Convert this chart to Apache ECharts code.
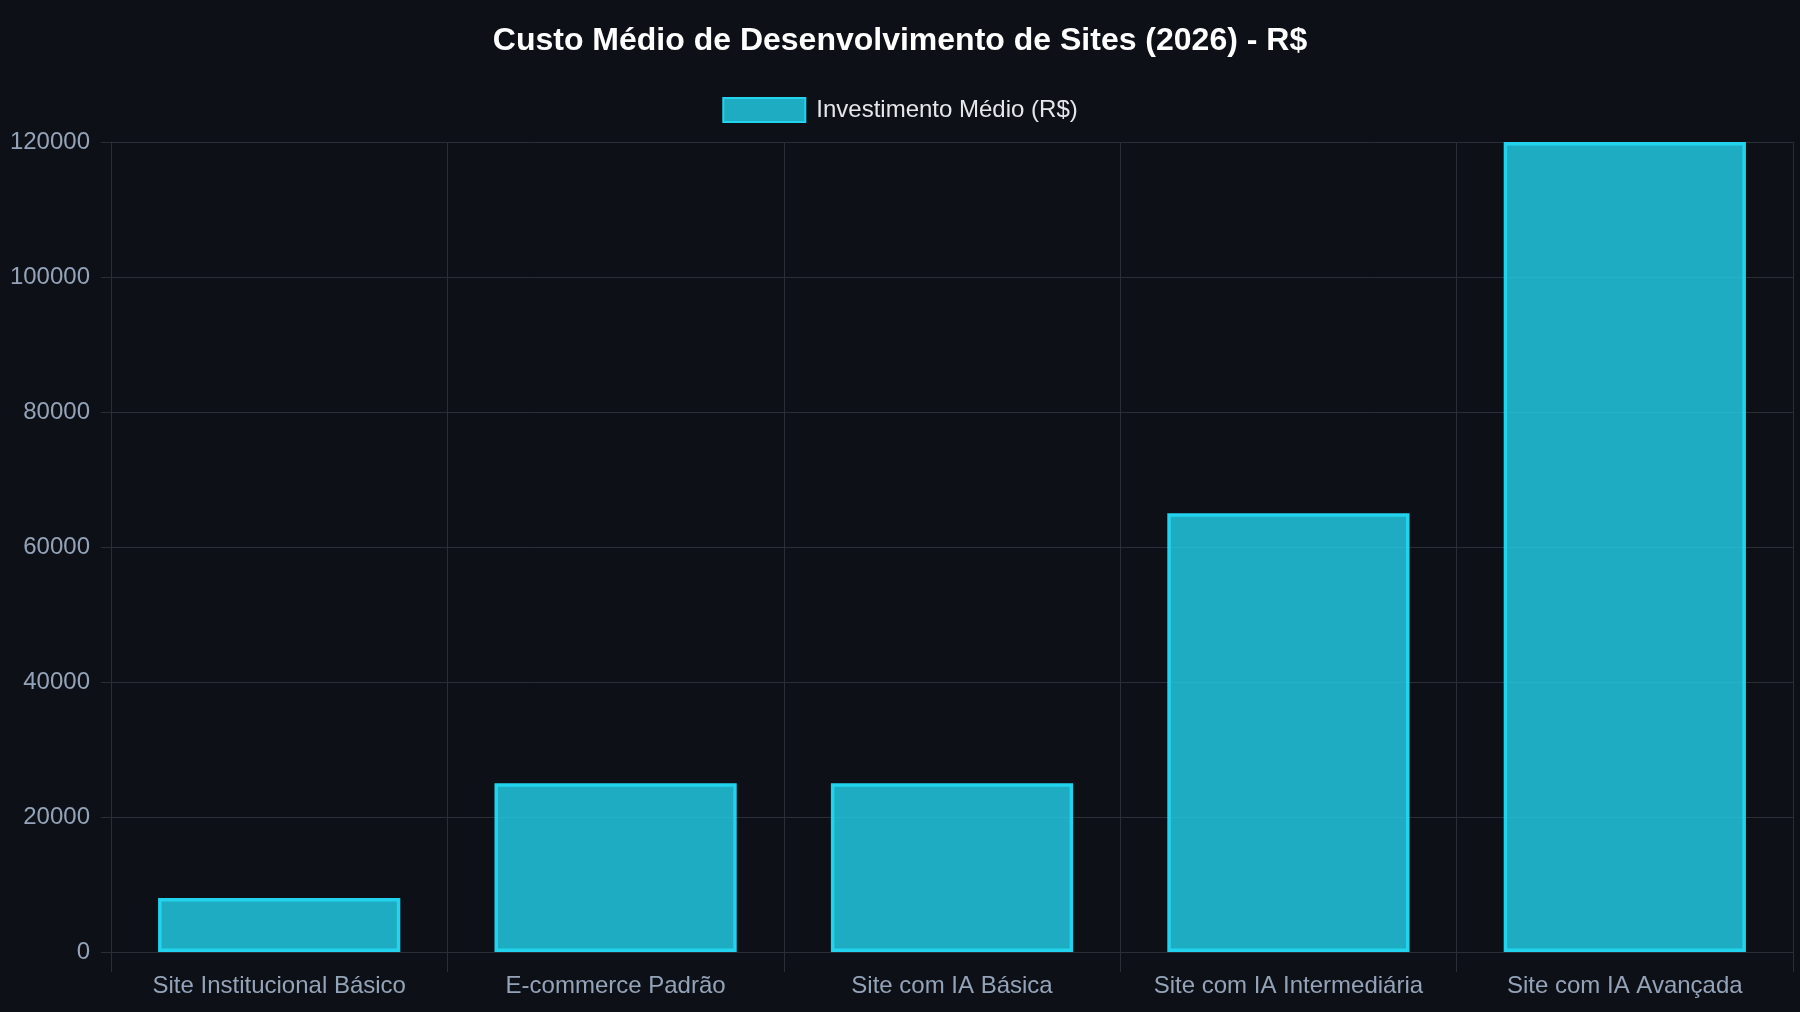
<!DOCTYPE html>
<html lang="pt-BR">
<head>
    <meta charset="UTF-8">
    <title>Custo Médio de Desenvolvimento de Sites</title>
    <script src="https://cdn.jsdelivr.net/npm/echarts@6/dist/echarts.min.js"></script>
    <style>
        html, body { margin: 0; padding: 0; background: #0d1117; }
        #main { width: 1800px; height: 1012px; }
    </style>
</head>
<body>
<div id="main"></div>
<script type="text/javascript">
    // dados do gráfico
    var categorias = ['Site Institucional Básico', 'E-commerce Padrão', 'Site com IA Básica',
        'Site com IA Intermediária', 'Site com IA Avançada'];
    var investimento = [8000, 25000, 25000, 65000, 120000];
    var nomeSerie = 'Investimento Médio (R$)';

    var gridColor = '#2a2e36';
    var labelColor = '#94a3b8';
    var fonte = '"Liberation Sans", Arial, sans-serif';

    var myChart = echarts.init(document.getElementById('main'));
    var option = {
        backgroundColor: '#0d1117',
        textStyle: { fontFamily: fonte },
        title: {
            text: 'Custo Médio de Desenvolvimento de Sites (2026) - R$',
            left: 'center',
            top: 20,
            textStyle: { color: '#ffffff', fontSize: 32, fontWeight: 'bold', fontFamily: fonte }
        },
        legend: {
            data: [nomeSerie],
            top: 92,
            left: 'center',
            icon: 'rect',
            itemWidth: 82,
            itemHeight: 24,
            textStyle: { color: '#e5e7eb', fontSize: 24, fontFamily: fonte, padding: [0, 0, 0, 6] }
        },
        grid: { left: 111, right: 7, top: 142, bottom: 60 },
        xAxis: {
            type: 'category',
            data: categorias,
            axisLine: { lineStyle: { color: gridColor } },
            axisTick: { show: true, interval: 0, length: 20, lineStyle: { color: gridColor } },
            splitLine: { show: true, interval: 0, lineStyle: { color: gridColor } },
            axisLabel: { color: labelColor, fontSize: 24, margin: 22, interval: 0, fontFamily: fonte }
        },
        yAxis: {
            type: 'value',
            min: 0,
            max: 120000,
            interval: 20000,
            axisLine: { show: true, lineStyle: { color: gridColor } },
            axisTick: { show: true, length: 10, lineStyle: { color: gridColor } },
            splitLine: { lineStyle: { color: gridColor } },
            axisLabel: {
                color: labelColor, fontSize: 24, margin: 21, fontFamily: fonte,
                formatter: function (v) { return String(v); }
            }
        },
        series: [
            {
                name: nomeSerie,
                type: 'bar',
                data: investimento,
                barCategoryGap: '28%',
                itemStyle: {
                    color: 'rgba(34, 211, 238, 0.8)',
                    borderColor: '#22d3ee',
                    borderWidth: 3.5
                }
            }
        ]
    };
    myChart.setOption(option);
</script>
</body>
</html>
